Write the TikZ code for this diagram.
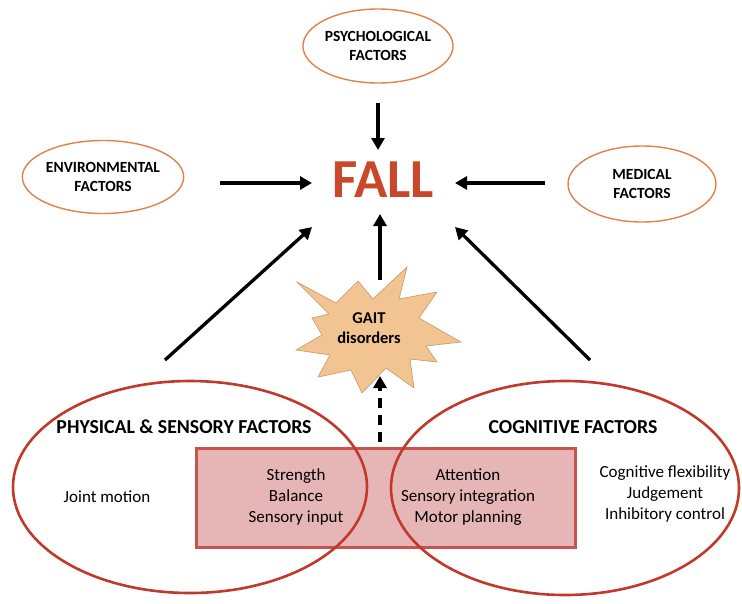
\documentclass[tikz,border=0pt]{standalone}
\usepackage{fontspec}
\setmainfont{Carlito}
\usetikzlibrary{arrows.meta,shapes.geometric}
\definecolor{fallred}{HTML}{C9472A}
\definecolor{smallring}{HTML}{E2814A}
\definecolor{bigring}{HTML}{C0392B}
\definecolor{pinkfill}{HTML}{E6B5B6}
\definecolor{pinkedge}{HTML}{C65352}
\definecolor{gaitfill}{HTML}{F2C491}
\definecolor{gaitedge}{HTML}{C89868}
\begin{document}
\begin{tikzpicture}[x=1pt,y=-1pt,
  smallell/.style={ellipse, draw=smallring, line width=1.4pt, fill=white, minimum width=#1, inner sep=0pt, align=center, font=\fontsize{15.5}{19}\selectfont\bfseries},
  bigell/.style={draw=bigring, line width=2.6pt},
  arr/.style={line width=3.3pt, -{Triangle[length=12pt,width=13pt]}},
  lbl/.style={align=center, font=\fontsize{17}{21}\selectfont},
  head/.style={font=\fontsize{19.8}{22}\selectfont\bfseries},
]
\useasboundingbox (0,0) rectangle (742,603);
% shared box
\node[draw=pinkedge, fill=pinkfill, line width=3pt, minimum width=379pt, minimum height=99pt, inner sep=0pt] (box) at (385.5,497.5) {};
% big ellipses
\draw[bigell] (190,487) ellipse [x radius=177, y radius=106];
\draw[bigell] (565,488) ellipse [x radius=174, y radius=107];
\coordinate (physc) at (190,487);
\coordinate (cogc) at (565,488);
% small ellipses
\node[smallell=146pt, minimum height=74pt] (psy) at (378,46) {PSYCHOLOGICAL\\FACTORS};
\node[smallell=146pt, minimum height=73pt] (env) at (103,177) {ENVIRONMENTAL\\FACTORS};
\node[smallell=148pt, minimum height=76pt] (med) at (642,184) {MEDICAL\\FACTORS};
% FALL
\node[text=fallred, font=\fontsize{55}{60}\selectfont\bfseries] (fall) at (383,180) {FALL};
% gait starburst
\draw[draw=gaitedge, fill=gaitfill, line width=0.6pt]
  (297,282) -- (336,303) -- (358,281) -- (373,299) -- (407,267) -- (399,299)
  -- (437,292) -- (419,318) -- (461,342) -- (426,346) -- (437,362) -- (410,359)
  -- (414,388) -- (386,368) -- (362,393) -- (351,370) -- (318,377) -- (330,355)
  -- (296,350) -- (322,335) -- (312,318) -- (329,314) -- cycle;
\node[align=center, font=\fontsize{16.5}{20}\selectfont\bfseries] (gait) at (369,328) {GAIT\\disorders};
% texts
\node[head] (phys) at (184,427) {PHYSICAL \& SENSORY FACTORS};
\node[head] (cog) at (573,427) {COGNITIVE FACTORS};
\node[lbl] (joint) at (107,497) {Joint motion};
\node[lbl] (sbs) at (296,497) {Strength\\Balance\\Sensory input};
\node[lbl] (asm) at (468,497) {Attention\\Sensory integration\\Motor planning};
\node[lbl] (cji) at (665,494) {Cognitive flexibility\\Judgement\\Inhibitory control};
% arrow end coordinates
\coordinate (psyA) at (378,103);
\coordinate (psyB) at (378,150);
\coordinate (envA) at (220,183);
\coordinate (envB) at (312,183);
\coordinate (medA) at (545,183);
\coordinate (medB) at (455,183);
\coordinate (lA) at (165,360);
\coordinate (lB) at (312,227);
\coordinate (rA) at (590,360);
\coordinate (rB) at (455,227);
\coordinate (gA) at (380,280);
\coordinate (gB) at (380,214);
\coordinate (dA) at (380,442);
\coordinate (dB) at (380,376);
% arrows
\draw[arr] (psyA) -- (psyB);
\draw[arr] (envA) -- (envB);
\draw[arr] (medA) -- (medB);
\draw[arr] (lA) -- (lB);
\draw[arr] (rA) -- (rB);
\draw[arr] (gA) -- (gB);
\draw[arr, dash pattern=on 10pt off 7pt] (dA) -- (dB);
\end{tikzpicture}
\end{document}
